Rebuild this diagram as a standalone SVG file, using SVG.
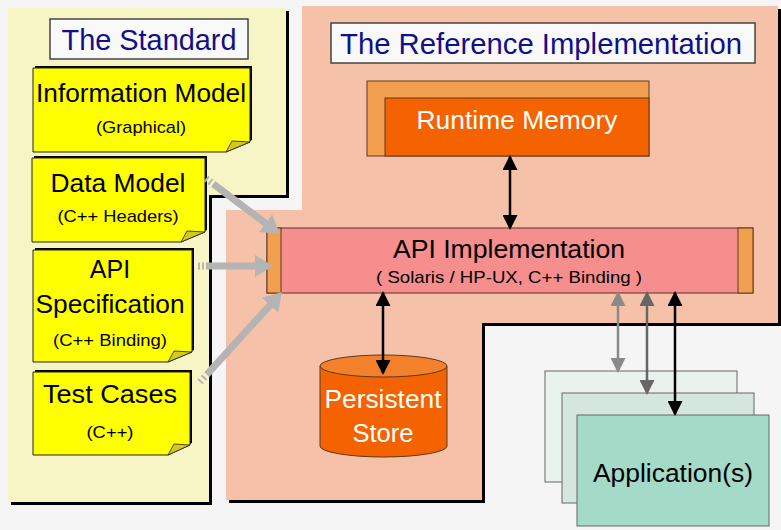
<svg xmlns="http://www.w3.org/2000/svg" width="781" height="530" viewBox="0 0 781 530">
<style>
text{font-family:"Liberation Sans",Arial,sans-serif;text-anchor:middle}
.title{fill:#10108a;font-size:29px}
.tbox{fill:#f9f9f9;stroke:#444;stroke-width:1.5}
.note{fill:#ffff00;stroke:#222;stroke-width:1}
.nshadow{fill:#000}
.fold{fill:#d6c81c;stroke:#222;stroke-width:0.8}
.big{font-size:25px;fill:#000}
.small{font-size:17px;fill:#000}
.white{fill:#fff}
.strip{fill:#f2a050;stroke:#5a3a20;stroke-width:1}
.ga{stroke:#b4b4b4;stroke-width:7;fill:none}
.ba{stroke:#000;stroke-width:2.5;fill:none}
.card{stroke:#666;stroke-width:1}
</style>
<defs>
<marker id="gh" markerUnits="userSpaceOnUse" markerWidth="20" markerHeight="22" viewBox="0 0 20 22" refX="4" refY="11" orient="auto">
<path d="M0,0 L18,11 L0,22 z" fill="#b4b4b4"/>
</marker>
<marker id="bh" markerUnits="userSpaceOnUse" markerWidth="15" markerHeight="15" viewBox="0 0 15 15" refX="13" refY="7.5" orient="auto-start-reverse">
<path d="M0,0 L15,7.5 L0,15 z" fill="#000"/>
</marker>
<marker id="gh1" markerUnits="userSpaceOnUse" markerWidth="15" markerHeight="15" viewBox="0 0 15 15" refX="13" refY="7.5" orient="auto-start-reverse">
<path d="M0,0 L15,7.5 L0,15 z" fill="#8a8a8a"/>
</marker>
<marker id="gh2" markerUnits="userSpaceOnUse" markerWidth="15" markerHeight="15" viewBox="0 0 15 15" refX="13" refY="7.5" orient="auto-start-reverse">
<path d="M0,0 L15,7.5 L0,15 z" fill="#666"/>
</marker>
</defs>
<rect width="781" height="530" fill="#f5f5f5"/>

<g id="panel-standard">
<polygon points="11,11 289,11 289,198 212,198 212,505 11,505" fill="#000"/>
<polygon points="8,8 286,8 286,195 209,195 209,502 8,502" fill="#f7f5c6"/>
</g>
<g id="panel-reference">
<polygon points="305,9 781,9 781,326 485,326 485,503 229,503 229,213 305,213" fill="#000"/>
<polygon points="302,6 778,6 778,323 482,323 482,500 226,500 226,210 302,210" fill="#f6c1a9"/>
</g>

<g id="title-standard">
<rect class="tbox" x="50" y="19" width="198" height="40"/>
<text class="title" x="149" y="50" textLength="175" lengthAdjust="spacingAndGlyphs">The Standard</text>
</g>
<g id="title-reference">
<rect class="tbox" x="331" y="23" width="424" height="40"/>
<text class="title" x="541" y="54" textLength="402" lengthAdjust="spacingAndGlyphs">The Reference Implementation</text>
</g>

<g id="information-model">
<polygon class="nshadow" points="35,66 252,66 252,140 228,150 35,150"/>
<polygon class="note" points="33,68 250,68 250,142 226,152 33,152"/>
<polygon class="fold" points="226,152 232,141 250,142"/>
<text class="big" x="141" y="102" textLength="210" lengthAdjust="spacingAndGlyphs">Information Model</text>
<text class="small" x="141" y="133" textLength="90" lengthAdjust="spacingAndGlyphs">(Graphical)</text>
</g>

<g id="data-model">
<polygon class="nshadow" points="34,156 207,156 207,230 183,240 34,240"/>
<polygon class="note" points="32,158 205,158 205,232 181,242 32,242"/>
<polygon class="fold" points="181,242 187,231 205,232"/>
<text class="big" x="118" y="192" textLength="135" lengthAdjust="spacingAndGlyphs">Data Model</text>
<text class="small" x="118" y="222" textLength="121" lengthAdjust="spacingAndGlyphs">(C++ Headers)</text>
</g>

<g id="api-specification">
<polygon class="nshadow" points="35,248 194,248 194,350 170,360 35,360"/>
<polygon class="note" points="33,250 192,250 192,352 168,362 33,362"/>
<polygon class="fold" points="168,362 174,351 192,352"/>
<text class="big" x="110" y="278">API</text>
<text class="big" x="110" y="313" textLength="149" lengthAdjust="spacingAndGlyphs">Specification</text>
<text class="small" x="110" y="346" textLength="114" lengthAdjust="spacingAndGlyphs">(C++ Binding)</text>
</g>

<g id="test-cases">
<polygon class="nshadow" points="35,370 192,370 192,443 170,453 35,453"/>
<polygon class="note" points="33,372 190,372 190,445 168,455 33,455"/>
<polygon class="fold" points="168,455 174,444 190,445"/>
<text class="big" x="110" y="403" textLength="134" lengthAdjust="spacingAndGlyphs">Test Cases</text>
<text class="small" x="110" y="438" textLength="47" lengthAdjust="spacingAndGlyphs">(C++)</text>
</g>

<g id="runtime-memory">
<rect class="strip" x="367" y="81" width="282" height="75"/>
<rect x="385" y="98" width="264" height="58" fill="#f56200" stroke="#5a3a20" stroke-width="1"/>
<text class="white" x="517" y="129" font-size="25" textLength="201" lengthAdjust="spacingAndGlyphs">Runtime Memory</text>
</g>

<g id="api-implementation">
<rect x="267" y="228" width="486" height="65" fill="#f58e8c" stroke="#5a3030" stroke-width="1"/>
<rect class="strip" x="267" y="228" width="14" height="65"/>
<rect class="strip" x="738" y="228" width="15" height="65"/>
<text class="big" x="509" y="258" textLength="232" lengthAdjust="spacingAndGlyphs">API Implementation</text>
<text x="509" y="283" font-size="17" textLength="266" lengthAdjust="spacingAndGlyphs">( Solaris / HP-UX, C++ Binding )</text>
</g>

<g id="persistent-store">
<path d="M320,366 L320,446 A63.5,11 0 0 0 447,446 L447,366 Z" fill="#f56200" stroke="#5a3a20" stroke-width="1"/>
<ellipse cx="383.5" cy="366" rx="63.5" ry="11" fill="#f5802c" stroke="#5a3a20" stroke-width="1"/>
<text class="white" x="383" y="408" font-size="25" textLength="117" lengthAdjust="spacingAndGlyphs">Persistent</text>
<text class="white" x="383" y="442" font-size="25" textLength="61" lengthAdjust="spacingAndGlyphs">Store</text>
</g>

<g id="applications">
<rect class="card" x="545" y="371" width="192" height="111" fill="#eaf2ee"/>
<rect class="card" x="562" y="393" width="192" height="110" fill="#d4e6de"/>
<rect class="card" x="577" y="415" width="192" height="111" fill="#a4dac8"/>
<text x="673" y="482" font-size="26" fill="#000" textLength="160" lengthAdjust="spacingAndGlyphs">Application(s)</text>
</g>

<g id="connectors">
<line class="ga" x1="206" y1="178.5" x2="268.8" y2="225.6" stroke-dasharray="2 2.5 2 2.5 1000" marker-end="url(#gh)"/>
<line class="ga" x1="198" y1="266" x2="259" y2="266" stroke-dasharray="2 2 2 2 1000" marker-end="url(#gh)"/>
<line class="ga" x1="200" y1="382" x2="272.6" y2="302.3" stroke-dasharray="2 3 2 3 1000" marker-end="url(#gh)"/>
<line class="ba" x1="510" y1="157" x2="510" y2="228" marker-start="url(#bh)" marker-end="url(#bh)"/>
<line class="ba" x1="383" y1="293" x2="383" y2="373" marker-start="url(#bh)" marker-end="url(#bh)"/>
<line x1="618" y1="293" x2="618" y2="371" stroke="#8a8a8a" stroke-width="2.5" marker-start="url(#gh1)" marker-end="url(#gh1)"/>
<line x1="647" y1="293" x2="647" y2="393" stroke="#666" stroke-width="2.5" marker-start="url(#gh2)" marker-end="url(#gh2)"/>
<line class="ba" x1="675" y1="293" x2="675" y2="414" marker-start="url(#bh)" marker-end="url(#bh)"/>
</g>
</svg>
